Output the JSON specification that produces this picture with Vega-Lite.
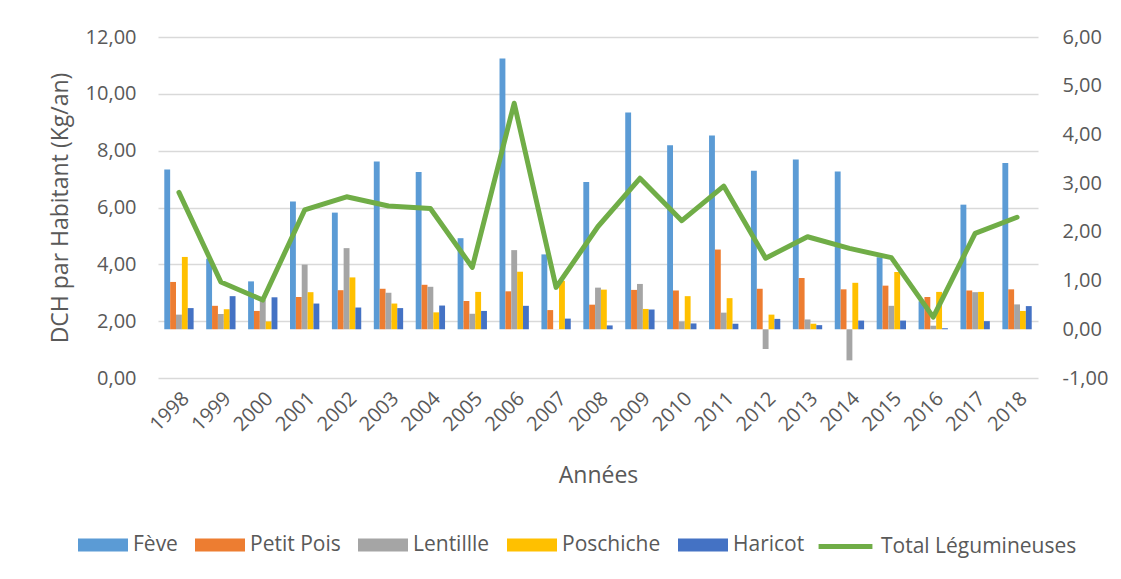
{
  "$schema": "https://vega.github.io/schema/vega-lite/v6.json",
  "width": 880,
  "height": 341,
  "autosize": {"type": "none"},
  "padding": {"left": 158, "top": 37, "right": 83, "bottom": 201},
  "background": "white",
  "config": {
    "font": "Open Sans",
    "view": {"stroke": null},
    "axis": {"labelColor": "#595959", "titleColor": "#595959", "titleFontWeight": "normal", "domain": false, "ticks": false},
    "legend": {"labelColor": "#595959", "labelFontSize": 21, "padding": 0, "labelLimit": 0}
  },
  "datasets": {
    "bars": [
      {"year":"1998","legume":"Fève","value":7.34},{"year":"1998","legume":"Petit Pois","value":3.38},{"year":"1998","legume":"Lentillle","value":2.23},{"year":"1998","legume":"Poschiche","value":4.26},{"year":"1998","legume":"Haricot","value":2.46},
      {"year":"1999","legume":"Fève","value":4.2},{"year":"1999","legume":"Petit Pois","value":2.54},{"year":"1999","legume":"Lentillle","value":2.25},{"year":"1999","legume":"Poschiche","value":2.42},{"year":"1999","legume":"Haricot","value":2.88},
      {"year":"2000","legume":"Fève","value":3.4},{"year":"2000","legume":"Petit Pois","value":2.36},{"year":"2000","legume":"Lentillle","value":2.75},{"year":"2000","legume":"Poschiche","value":1.99},{"year":"2000","legume":"Haricot","value":2.84},
      {"year":"2001","legume":"Fève","value":6.21},{"year":"2001","legume":"Petit Pois","value":2.85},{"year":"2001","legume":"Lentillle","value":3.99},{"year":"2001","legume":"Poschiche","value":3.02},{"year":"2001","legume":"Haricot","value":2.62},
      {"year":"2002","legume":"Fève","value":5.82},{"year":"2002","legume":"Petit Pois","value":3.09},{"year":"2002","legume":"Lentillle","value":4.57},{"year":"2002","legume":"Poschiche","value":3.54},{"year":"2002","legume":"Haricot","value":2.48},
      {"year":"2003","legume":"Fève","value":7.62},{"year":"2003","legume":"Petit Pois","value":3.14},{"year":"2003","legume":"Lentillle","value":3.0},{"year":"2003","legume":"Poschiche","value":2.62},{"year":"2003","legume":"Haricot","value":2.46},
      {"year":"2004","legume":"Fève","value":7.25},{"year":"2004","legume":"Petit Pois","value":3.28},{"year":"2004","legume":"Lentillle","value":3.21},{"year":"2004","legume":"Poschiche","value":2.31},{"year":"2004","legume":"Haricot","value":2.55},
      {"year":"2005","legume":"Fève","value":4.92},{"year":"2005","legume":"Petit Pois","value":2.71},{"year":"2005","legume":"Lentillle","value":2.26},{"year":"2005","legume":"Poschiche","value":3.03},{"year":"2005","legume":"Haricot","value":2.36},
      {"year":"2006","legume":"Fève","value":11.24},{"year":"2006","legume":"Petit Pois","value":3.05},{"year":"2006","legume":"Lentillle","value":4.5},{"year":"2006","legume":"Poschiche","value":3.74},{"year":"2006","legume":"Haricot","value":2.54},
      {"year":"2007","legume":"Fève","value":4.35},{"year":"2007","legume":"Petit Pois","value":2.39},{"year":"2007","legume":"Lentillle","value":1.72},{"year":"2007","legume":"Poschiche","value":3.42},{"year":"2007","legume":"Haricot","value":2.09},
      {"year":"2008","legume":"Fève","value":6.9},{"year":"2008","legume":"Petit Pois","value":2.58},{"year":"2008","legume":"Lentillle","value":3.18},{"year":"2008","legume":"Poschiche","value":3.11},{"year":"2008","legume":"Haricot","value":1.85},
      {"year":"2009","legume":"Fève","value":9.34},{"year":"2009","legume":"Petit Pois","value":3.1},{"year":"2009","legume":"Lentillle","value":3.31},{"year":"2009","legume":"Poschiche","value":2.43},{"year":"2009","legume":"Haricot","value":2.41},
      {"year":"2010","legume":"Fève","value":8.19},{"year":"2010","legume":"Petit Pois","value":3.08},{"year":"2010","legume":"Lentillle","value":1.99},{"year":"2010","legume":"Poschiche","value":2.88},{"year":"2010","legume":"Haricot","value":1.92},
      {"year":"2011","legume":"Fève","value":8.53},{"year":"2011","legume":"Petit Pois","value":4.52},{"year":"2011","legume":"Lentillle","value":2.3},{"year":"2011","legume":"Poschiche","value":2.81},{"year":"2011","legume":"Haricot","value":1.91},
      {"year":"2012","legume":"Fève","value":7.29},{"year":"2012","legume":"Petit Pois","value":3.14},{"year":"2012","legume":"Lentillle","value":1.02},{"year":"2012","legume":"Poschiche","value":2.23},{"year":"2012","legume":"Haricot","value":2.08},
      {"year":"2013","legume":"Fève","value":7.69},{"year":"2013","legume":"Petit Pois","value":3.52},{"year":"2013","legume":"Lentillle","value":2.06},{"year":"2013","legume":"Poschiche","value":1.91},{"year":"2013","legume":"Haricot","value":1.86},
      {"year":"2014","legume":"Fève","value":7.27},{"year":"2014","legume":"Petit Pois","value":3.12},{"year":"2014","legume":"Lentillle","value":0.62},{"year":"2014","legume":"Poschiche","value":3.35},{"year":"2014","legume":"Haricot","value":2.02},
      {"year":"2015","legume":"Fève","value":4.25},{"year":"2015","legume":"Petit Pois","value":3.25},{"year":"2015","legume":"Lentillle","value":2.54},{"year":"2015","legume":"Poschiche","value":3.73},{"year":"2015","legume":"Haricot","value":2.02},
      {"year":"2016","legume":"Fève","value":2.7},{"year":"2016","legume":"Petit Pois","value":2.85},{"year":"2016","legume":"Lentillle","value":1.84},{"year":"2016","legume":"Poschiche","value":3.03},{"year":"2016","legume":"Haricot","value":1.75},
      {"year":"2017","legume":"Fève","value":6.1},{"year":"2017","legume":"Petit Pois","value":3.08},{"year":"2017","legume":"Lentillle","value":3.02},{"year":"2017","legume":"Poschiche","value":3.03},{"year":"2017","legume":"Haricot","value":2.0},
      {"year":"2018","legume":"Fève","value":7.57},{"year":"2018","legume":"Petit Pois","value":3.12},{"year":"2018","legume":"Lentillle","value":2.59},{"year":"2018","legume":"Poschiche","value":2.36},{"year":"2018","legume":"Haricot","value":2.53}
    ],
    "total": [
      {"year":"1998","total":2.81},{"year":"1999","total":0.97},{"year":"2000","total":0.6},{"year":"2001","total":2.45},{"year":"2002","total":2.72},
      {"year":"2003","total":2.53},{"year":"2004","total":2.48},{"year":"2005","total":1.27},{"year":"2006","total":4.64},{"year":"2007","total":0.86},
      {"year":"2008","total":2.11},{"year":"2009","total":3.1},{"year":"2010","total":2.23},{"year":"2011","total":2.94},{"year":"2012","total":1.46},
      {"year":"2013","total":1.9},{"year":"2014","total":1.66},{"year":"2015","total":1.47},{"year":"2016","total":0.25},{"year":"2017","total":1.97},{"year":"2018","total":2.3}
    ]
  },
  "encoding": {
    "x": {
      "field": "year", "type": "nominal",
      "scale": {"paddingInner": 0.3, "paddingOuter": 0.15},
      "axis": {"title": "Années", "labelAngle": -45, "labelFontSize": 20, "titleFontSize": 23, "labelPadding": 10, "titlePadding": 30}
    }
  },
  "layer": [
    {
      "data": {"name": "bars"},
      "mark": {"type": "bar"},
      "encoding": {
        "xOffset": {"field": "legume", "type": "nominal", "sort": ["Fève", "Petit Pois", "Lentillle", "Poschiche", "Haricot"], "scale": {"paddingInner": 0, "paddingOuter": 0}},
        "y": {
          "field": "value", "type": "quantitative",
          "scale": {"domain": [0, 12], "nice": false, "zero": false},
          "axis": {"orient": "left", "title": "DCH par Habitant (Kg/an)", "values": [0, 2, 4, 6, 8, 10, 12], "labelExpr": "replace(format(datum.value, '.2f'), '.', ',')", "grid": true, "gridColor": "#d9d9d9", "gridWidth": 1.5, "labelFontSize": 20, "titleFontSize": 23, "labelPadding": 22, "titlePadding": 13}
        },
        "y2": {"datum": 1.7142857},
        "color": {
          "field": "legume", "type": "nominal",
          "scale": {"domain": ["Fève", "Petit Pois", "Lentillle", "Poschiche", "Haricot"], "range": ["#5B9BD5", "#ED7D31", "#A5A5A5", "#FFC000", "#4472C4"]},
          "legend": {"title": null, "orient": "none", "direction": "horizontal", "columns": 5, "legendX": -80, "legendY": 483, "symbolType": "M-1,-0.26H1V0.26H-1Z", "symbolSize": 2500, "symbolStrokeWidth": 0, "labelOffset": 5, "columnPadding": 17}
        }
      }
    },
    {
      "data": {"name": "total"},
      "mark": {"type": "line", "strokeWidth": 5, "strokeCap": "round", "strokeJoin": "round"},
      "encoding": {
        "y": {
          "field": "total", "type": "quantitative",
          "scale": {"domain": [-1, 6], "nice": false, "zero": false},
          "axis": {"orient": "right", "title": null, "values": [-1, 0, 1, 2, 3, 4, 5, 6], "labelExpr": "replace(replace(format(datum.value, '.2f'), '.', ','), '−', '-')", "grid": false, "labelFontSize": 20, "labelPadding": 24}
        },
        "color": {
          "datum": "Total Légumineuses",
          "scale": {"range": ["#70AD47"]},
          "legend": {"title": null, "orient": "none", "legendX": 658, "legendY": 480, "symbolType": "stroke", "symbolSize": 2900, "symbolStrokeWidth": 5, "labelOffset": 6}
        }
      }
    }
  ],
  "resolve": {"scale": {"y": "independent", "color": "independent"}}
}
